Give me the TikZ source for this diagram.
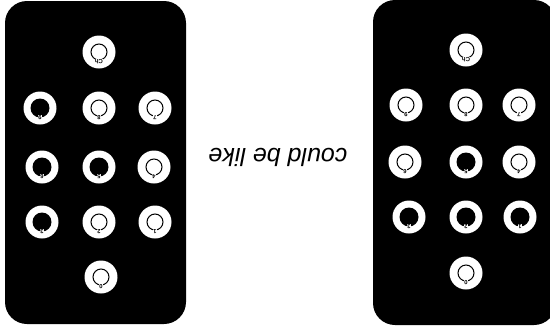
\documentclass[tikz,border=0pt]{standalone}
\usepackage{fontspec}
\setmainfont{Liberation Sans}
\begin{document}
\begin{tikzpicture}[x=1pt,y=-1pt,
  panel/.style={fill=black, rounded corners=22pt},
  outerbtn/.style={circle, fill=white, minimum size=33pt, inner sep=0pt},
  keyoff/.style={circle, draw=black, line width=1pt, minimum size=16pt, inner sep=0pt},
  keyon/.style={circle, fill=black, minimum size=19pt, inner sep=0pt},
  lbl/.style={font=\fontsize{6}{6}\selectfont\bfseries, rotate=180, fill=white, inner sep=0.4pt}]
\useasboundingbox (0,0) rectangle (550,333);
\fill[white] (0,0) rectangle (550,333);
\path[panel] (5,1) rectangle (186,324);
\path[panel] (373,0) rectangle (556,325);
\foreach \n/\x/\y/\s in {Ch/99/52/keyoff, 9/40/108/keyon, 8/99/108/keyoff, 7/155/108/keyoff,
  6/42/167/keyon, 5/99/167/keyon, 4/154/167/keyoff,
  3/42/222/keyon, 2/99/222/keyoff, 1/155/222/keyoff, 0/101/277/keyoff}{
  \node[outerbtn] (L\n) at (\x,\y) {};
  \node[\s] (L\n i) at (L\n.center) {};
  \node[lbl] (L\n t) at ([yshift=-9.5pt]L\n.center) {\n};
}
\foreach \n/\x/\y/\s in {Ch/466/50/keyoff, 9/406/105/keyoff, 8/466/105/keyoff, 7/519/105/keyoff,
  6/405/162/keyoff, 5/466/162/keyon, 4/519/162/keyoff,
  3/409/217/keyon, 2/466/217/keyon, 1/520/217/keyon, 0/466/273/keyoff}{
  \node[outerbtn] (R\n) at (\x,\y) {};
  \node[\s] (R\n i) at (R\n.center) {};
  \node[lbl] (R\n t) at ([yshift=-9.5pt]R\n.center) {\n};
}
\node[font=\fontsize{25}{25}\selectfont\itshape, rotate=180, inner sep=0pt] (txt) at (278,157) {could be like};
\end{tikzpicture}
\end{document}
